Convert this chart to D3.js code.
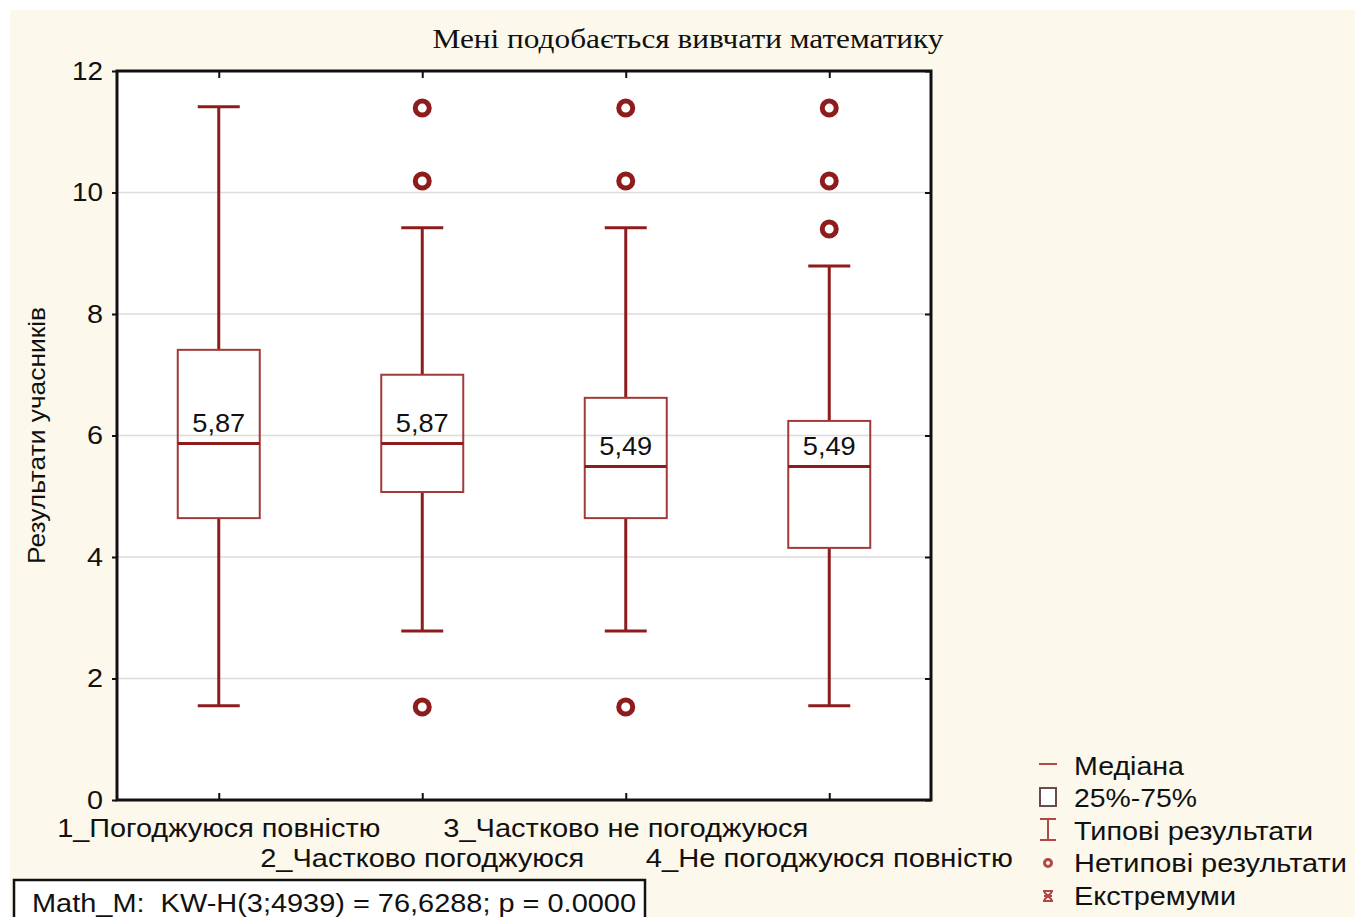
<html>
<head>
<meta charset="utf-8">
<title>Box plot</title>
<script src="https://d3js.org/d3.v7.min.js"></script>
<style>
  body { margin: 0; background: #ffffff; }
  text { font-family: "Liberation Sans", Arial, sans-serif; }
</style>
</head>
<body>
<div id="chart"></div>
<script>
// data
var categories = ["1_Погоджуюся повністю", "2_Частково погоджуюся",
                  "3_Частково не погоджуюся", "4_Не погоджуюся повністю"];
var medians = [5.87, 5.87, 5.49, 5.49];
var q1 = [4.64, 5.07, 4.64, 4.15];
var q3 = [7.41, 7.00, 6.62, 6.24];
var whiskerLow = [1.55, 2.78, 2.78, 1.55];
var whiskerHigh = [11.41, 9.42, 9.42, 8.79];
var outliers = [[], [11.39, 10.19, 1.53], [11.39, 10.19, 1.53], [11.39, 10.19, 9.40]];
var yTicks = [0, 2, 4, 6, 8, 10, 12];
var legendItems = ["Медіана", "25%-75%", "Типові результати", "Нетипові результати", "Екстремуми"];
var title = "Мені подобається вивчати математику";
var yLabel = "Результати учасників";
var statText = "Math_M:  KW-H(3;4939) = 76,6288; p = 0.0000";

var width = 1355, height = 917;
var plotL = 117, plotR = 931, plotT = 71, plotB = 800;
var red = "#8e1c1c";

var svg = d3.select("#chart").append("svg")
    .attr("width", width)
    .attr("height", height);

// cream background
svg.append("rect")
    .attr("x", 10).attr("y", 10)
    .attr("width", width - 10).attr("height", height - 10)
    .attr("fill", "#fcf8ec");

var x = d3.scalePoint()
    .domain(categories)
    .range([plotL, plotR])
    .padding(0.5);

var y = d3.scaleLinear()
    .domain([0, 12])
    .range([plotB, plotT]);

// plot area
svg.append("rect")
    .attr("x", plotL).attr("y", plotT)
    .attr("width", plotR - plotL).attr("height", plotB - plotT)
    .attr("fill", "#ffffff");

// grid
svg.append("g")
    .selectAll("line")
    .data(yTicks.filter(function(d) { return d > 0 && d < 12; }))
    .enter().append("line")
    .attr("x1", plotL).attr("x2", plotR)
    .attr("y1", function(d) { return y(d); })
    .attr("y2", function(d) { return y(d); })
    .attr("stroke", "#dcdcdc")
    .attr("stroke-width", 1.5);

// axes
var yAxis = svg.append("g")
    .attr("transform", "translate(" + plotL + ",0)")
    .call(d3.axisLeft(y).tickValues(yTicks).tickSize(5).tickPadding(9));
yAxis.selectAll("text")
    .style("font-size", "25px")
    .style("font-family", "'Liberation Sans', Arial, sans-serif")
    .attr("fill", "#111")
    .attr("textLength", function(d) { return d >= 10 ? 31 : 16; })
    .attr("lengthAdjust", "spacingAndGlyphs");

svg.append("g")
    .attr("transform", "translate(" + plotR + ",0)")
    .call(d3.axisLeft(y).tickValues(yTicks).tickSize(6).tickFormat(""));

svg.append("g")
    .attr("transform", "translate(0," + plotT + ")")
    .call(d3.axisBottom(x).tickSize(7).tickFormat(""));

svg.append("g")
    .attr("transform", "translate(0," + plotB + ")")
    .call(d3.axisTop(x).tickSize(7).tickFormat(""));

svg.selectAll(".domain").remove();
svg.selectAll(".tick line").attr("stroke", "#111").attr("stroke-width", 2);

// frame
svg.append("rect")
    .attr("x", plotL).attr("y", plotT)
    .attr("width", plotR - plotL).attr("height", plotB - plotT)
    .attr("fill", "none")
    .attr("stroke", "#111")
    .attr("stroke-width", 3);

// boxes
var boxW = 82, capW = 42;
var g = svg.append("g");

categories.forEach(function(c, i) {
    var cx = x(c);
    // whiskers
    g.append("line")
        .attr("x1", cx).attr("x2", cx)
        .attr("y1", y(whiskerHigh[i])).attr("y2", y(q3[i]))
        .attr("stroke", red).attr("stroke-width", 3);
    g.append("line")
        .attr("x1", cx).attr("x2", cx)
        .attr("y1", y(q1[i])).attr("y2", y(whiskerLow[i]))
        .attr("stroke", red).attr("stroke-width", 3);
    [whiskerHigh[i], whiskerLow[i]].forEach(function(v) {
        g.append("line")
            .attr("x1", cx - capW / 2).attr("x2", cx + capW / 2)
            .attr("y1", y(v)).attr("y2", y(v))
            .attr("stroke", red).attr("stroke-width", 3);
    });
    // box
    g.append("rect")
        .attr("x", cx - boxW / 2)
        .attr("y", y(q3[i]))
        .attr("width", boxW)
        .attr("height", y(q1[i]) - y(q3[i]))
        .attr("fill", "none")
        .attr("stroke", "#a23a3a")
        .attr("stroke-width", 2);
    // median
    g.append("line")
        .attr("x1", cx - boxW / 2).attr("x2", cx + boxW / 2)
        .attr("y1", y(medians[i])).attr("y2", y(medians[i]))
        .attr("stroke", red).attr("stroke-width", 3);
    g.append("text")
        .attr("x", cx)
        .attr("y", y(medians[i]) - 11)
        .attr("text-anchor", "middle")
        .style("font-size", "25px")
        .attr("fill", "#111")
        .attr("textLength", 53)
        .attr("lengthAdjust", "spacingAndGlyphs")
        .text(String(medians[i].toFixed(2)).replace(".", ","));
    // outliers
    g.selectAll(null)
        .data(outliers[i])
        .enter().append("circle")
        .attr("cx", cx)
        .attr("cy", function(d) { return y(d); })
        .attr("r", 7)
        .attr("fill", "none")
        .attr("stroke", red)
        .attr("stroke-width", 5);
});

// title
svg.append("text")
    .attr("x", 688).attr("y", 48)
    .attr("text-anchor", "middle")
    .style("font-family", "'Liberation Serif', 'Times New Roman', serif")
    .style("font-size", "28px")
    .attr("fill", "#111")
    .attr("textLength", 511)
    .attr("lengthAdjust", "spacingAndGlyphs")
    .text(title);

// y label
svg.append("text")
    .attr("transform", "translate(45," + ((plotT + plotB) / 2) + ") rotate(-90)")
    .attr("text-anchor", "middle")
    .style("font-size", "24px")
    .attr("fill", "#111")
    .attr("textLength", 257)
    .attr("lengthAdjust", "spacingAndGlyphs")
    .text(yLabel);

// staggered category labels
var labelW = [323, 324, 365, 367];
svg.append("g")
    .selectAll("text")
    .data(categories)
    .enter().append("text")
    .attr("x", function(d) { return x(d); })
    .attr("y", function(d, i) { return i % 2 === 0 ? 837 : 867; })
    .attr("text-anchor", "middle")
    .style("font-size", "25px")
    .attr("fill", "#111")
    .attr("textLength", function(d, i) { return labelW[i]; })
    .attr("lengthAdjust", "spacingAndGlyphs")
    .text(function(d) { return d; });

// legend
var legend = svg.append("g").attr("transform", "translate(1048,0)");
var legendY = [766, 798, 831, 863, 896];
var legendW = [110, 123, 239, 273, 162];
var symColor = "#b04848";
legendItems.forEach(function(t, i) {
    var ly = legendY[i];
    if (i === 0) {
        legend.append("line").attr("x1", -9).attr("x2", 9)
            .attr("y1", ly - 2).attr("y2", ly - 2)
            .attr("stroke", symColor).attr("stroke-width", 2);
    } else if (i === 1) {
        legend.append("rect").attr("x", -8).attr("y", ly - 10)
            .attr("width", 16).attr("height", 18)
            .attr("fill", "#fff").attr("stroke", "#6a4a4a").attr("stroke-width", 2);
    } else if (i === 2) {
        legend.append("path")
            .attr("d", "M-8," + (ly - 12) + "H8M0," + (ly - 12) + "V" + (ly + 9) + "M-8," + (ly + 9) + "H8")
            .attr("fill", "none").attr("stroke", symColor).attr("stroke-width", 2);
    } else if (i === 3) {
        legend.append("circle").attr("cx", 0).attr("cy", ly)
            .attr("r", 3.5).attr("fill", "none")
            .attr("stroke", symColor).attr("stroke-width", 3);
    } else {
        legend.append("path")
            .attr("d", "M-5," + (ly - 5) + "H5M-5," + (ly + 5) + "H5M-4," + ly + "H4" +
                "M-4," + (ly - 4) + "L4," + (ly + 4) + "M4," + (ly - 4) + "L-4," + (ly + 4))
            .attr("fill", "none").attr("stroke", symColor).attr("stroke-width", 2);
    }
    legend.append("text")
        .attr("x", 26).attr("y", ly + 9)
        .style("font-size", "26px")
        .attr("fill", "#111")
        .attr("textLength", legendW[i])
        .attr("lengthAdjust", "spacingAndGlyphs")
        .text(t);
});

// stat box
svg.append("rect")
    .attr("x", 14).attr("y", 880)
    .attr("width", 631).attr("height", 50)
    .attr("fill", "#ffffff")
    .attr("stroke", "#111")
    .attr("stroke-width", 2.5);
svg.append("text")
    .attr("x", 32).attr("y", 912)
    .style("font-size", "25px")
    .style("white-space", "pre")
    .attr("fill", "#111")
    .attr("textLength", 604)
    .attr("lengthAdjust", "spacingAndGlyphs")
    .text(statText);
</script>
</body>
</html>
